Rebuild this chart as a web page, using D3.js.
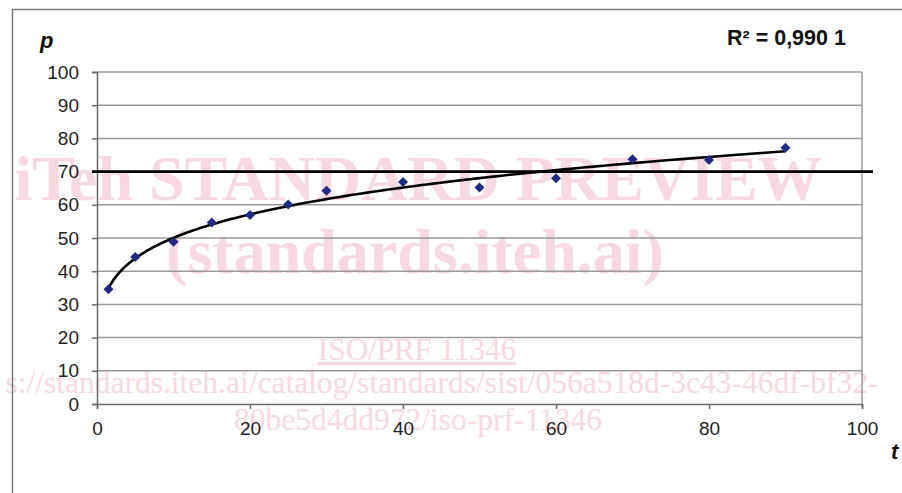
<!DOCTYPE html>
<html><head><meta charset="utf-8">
<script src="https://cdn.jsdelivr.net/npm/d3@7"></script>
<style>body{margin:0;background:#fff}svg{display:block}</style>
</head><body>
<script>
const tValues = [1.5, 5, 10, 15, 20, 25, 30, 40, 50, 60, 70, 80, 90];
const pValues = [34.6, 44.3, 48.9, 54.7, 56.9, 60.1, 64.2, 66.9, 65.2, 68.0, 73.7, 73.5, 77.2];
const xTicks = [0, 20, 40, 60, 80, 100];
const yTicks = [0, 10, 20, 30, 40, 50, 60, 70, 80, 90, 100];
const referenceLevel = [70];
const r2Label = ["R² = 0,990 1"];

const W = 902, H = 493;
const svg = d3.select("body").append("svg").attr("width", W).attr("height", H);

// watermark (behind the chart)
const wm = svg.append("g").attr("fill", "#f8d9e2")
  .attr("font-family", "Liberation Serif, Times New Roman, serif");
wm.append("text").attr("x", 418).attr("y", 200).attr("text-anchor", "middle")
  .attr("font-size", 64).attr("font-weight", "bold").text("iTeh STANDARD PREVIEW");
wm.append("text").attr("x", 415).attr("y", 273).attr("text-anchor", "middle")
  .attr("font-size", 64).attr("font-weight", "bold").text("(standards.iteh.ai)");
wm.append("text").attr("x", 417).attr("y", 360).attr("text-anchor", "middle")
  .attr("font-size", 31).attr("text-decoration", "underline").text("ISO/PRF 11346");
wm.append("text").attr("x", 442).attr("y", 393).attr("text-anchor", "middle")
  .attr("font-size", 31.5).text("s://standards.iteh.ai/catalog/standards/sist/056a518d-3c43-46df-bf32-");
wm.append("text").attr("x", 418).attr("y", 430).attr("text-anchor", "middle")
  .attr("font-size", 31.5).text("80be5d4dd972/iso-prf-11346");

// outer frame
svg.append("path").attr("d", `M12.5,${H} L12.5,9.5 L${W},9.5`).attr("fill","none").attr("stroke","#7a7a7a").attr("stroke-width",1.5);

const x = d3.scaleLinear().domain([0, 100]).range([97, 862]);
const y = d3.scaleLinear().domain([0, 100]).range([404, 72]);

// gridlines
svg.append("g").selectAll("line").data(yTicks.filter(d => d > 0)).join("line")
  .attr("x1", x(0)).attr("x2", x(100)).attr("y1", d => y(d)).attr("y2", d => y(d))
  .attr("stroke", "#9a9a9a").attr("stroke-width", 1.5);
// right border of plot
svg.append("line").attr("x1", x(100)).attr("x2", x(100)).attr("y1", y(100)).attr("y2", y(0))
  .attr("stroke", "#9a9a9a").attr("stroke-width", 1.5);

// axes
const yAxis = svg.append("g").attr("transform", `translate(${x(0)},0)`)
  .call(d3.axisLeft(y).tickValues(yTicks).tickSize(5).tickPadding(13));
const xAxis = svg.append("g").attr("transform", `translate(0,${y(0)})`)
  .call(d3.axisBottom(x).tickValues(xTicks).tickSize(5).tickPadding(13));
[yAxis, xAxis].forEach(g => {
  g.select(".domain").attr("stroke", "#6a6a6a").attr("stroke-width", 1.5);
  g.selectAll(".tick line").attr("stroke", "#6a6a6a").attr("stroke-width", 1.5);
  g.selectAll("text").attr("font-family", "Liberation Sans, Arial, sans-serif").attr("font-size", 19).attr("fill", "#222");
});

// reference line at 70
svg.append("g").selectAll("line").data(referenceLevel).join("line")
  .attr("x1", x(0) - 5).attr("x2", 873).attr("y1", d => y(d)).attr("y2", d => y(d))
  .attr("stroke", "#000").attr("stroke-width", 2.6);

// power trendline fitted from data (least squares in log-log space)
const lx = tValues.map(Math.log), ly = pValues.map(Math.log);
const mx = d3.mean(lx), my = d3.mean(ly);
const b = d3.sum(lx.map((v, i) => (v - mx) * (ly[i] - my))) / d3.sum(lx.map(v => (v - mx) ** 2));
const a = Math.exp(my - b * mx);
const tMin = d3.min(tValues), tMax = d3.max(tValues);
const curve = d3.range(0, 201).map(i => {
  const t = tMin * Math.pow(tMax / tMin, i / 200);
  return [t, a * Math.pow(t, b)];
});
svg.append("path").datum(curve)
  .attr("d", d3.line().x(d => x(d[0])).y(d => y(d[1])))
  .attr("fill", "none").attr("stroke", "#000").attr("stroke-width", 2.6);

// data points: diamonds (rotated squares)
svg.append("g").selectAll("path").data(tValues).join("path")
  .attr("transform", (d, i) => `translate(${x(d)},${y(pValues[i])}) rotate(45)`)
  .attr("d", d3.symbol(d3.symbolSquare, 50))
  .attr("fill", "#1f2a80");

// labels
svg.append("text").attr("x", 40).attr("y", 48).text("p")
  .attr("font-family", "Liberation Sans, Arial, sans-serif").attr("font-size", 22)
  .attr("font-weight", "bold").attr("font-style", "italic").attr("fill", "#111");
svg.append("text").attr("x", 891).attr("y", 459).text("t")
  .attr("font-family", "Liberation Sans, Arial, sans-serif").attr("font-size", 22)
  .attr("font-weight", "bold").attr("font-style", "italic").attr("fill", "#111");
svg.append("text").attr("x", 727).attr("y", 45).text(r2Label[0])
  .attr("font-family", "Liberation Sans, Arial, sans-serif").attr("font-size", 21.5)
  .attr("font-weight", "bold").attr("fill", "#111");
</script>
</body></html>
